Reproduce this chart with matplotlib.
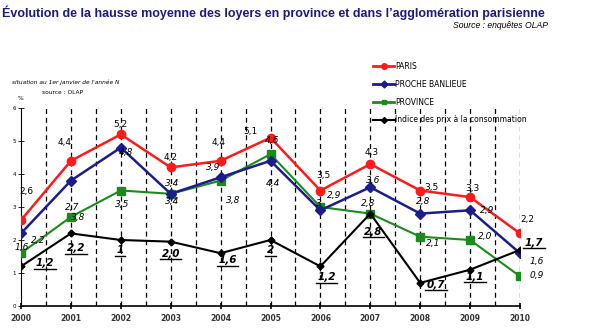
import matplotlib
matplotlib.use("Agg")
import matplotlib.pyplot as plt
from matplotlib.lines import Line2D

years = list(range(2000, 2011))

paris = [2.6, 4.4, 5.2, 4.2, 4.4, 5.1, 3.5, 4.3, 3.5, 3.3, 2.2]
banlieue = [2.2, 3.8, 4.8, 3.4, 3.9, 4.4, 2.9, 3.6, 2.8, 2.9, 1.6]
province = [1.6, 2.7, 3.5, 3.4, 3.8, 4.6, 3.0, 2.8, 2.1, 2.0, 0.9]
prix = [1.2, 2.2, 2.0, 1.95, 1.6, 2.0, 1.2, 2.8, 0.7, 1.1, 1.7]

paris_lbl = ["2,6", "4,4", "5,2", "4,2", "4,4", "5,1", "3,5", "4,3", "3,5", "3,3", "2,2"]
banlieue_lbl = ["2,2", "3,8", "4,8", "3,4", "3,9", "4,4", "2,9", "3,6", "2,8", "2,9", "1,6"]
province_lbl = ["1,6", "2,7", "3,5", "3,4", "3,8", "4,6", "3", "2,8", "2,1", "2,0", "0,9"]
prix_lbl = ["1,2", "2,2", "1", "2,0", "1,6", "2", "1,2", "2,8", "0,7", "1,1", "1,7"]

legend_labels = ["PARIS", "PROCHE BANLIEUE", "PROVINCE", "Indice des prix à la consommation"]

# label offsets in pixels (dx, dy), y up
paris_off = [(5, 29), (-6, 18), (0, 10), (0, 10), (-2, 18), (-20, 6), (3, 15), (1, 12), (11, 3), (2, 9), (7, 14)]
banlieue_off = [(17, -7), (7, -37), (5, -5), (1, 10), (-7, 10), (3, -23), (14, 15), (3, 7), (3, 12), (17, 0), (17, -8)]
province_off = [(1, 6), (1, 9), (1, -14), (1, -8), (13, -20), (2, 14), (-2, 3), (-2, 10), (13, -7), (15, 3), (17, 1)]
prix_off = [(24, 3), (5, -15), (-1, -10), (0, -12), (7, -7), (0, -10), (6, -11), (3, -18), (16, -2), (5, -7), (14, 7)]

RED = "#ff1a1a"
BLUE = "#1c1c8c"
GREEN = "#1a8c1a"
NAVY = "#1a1a80"

fig = plt.figure(figsize=(5.97, 3.28), dpi=100)
ax = fig.add_axes([21 / 597, 1 - 306 / 328, (520 - 21) / 597, (306 - 108) / 328])

for x in [y + 0.5 for y in years[:-1]] + years[1:]:
    ax.axvline(x, color="black", linestyle=(0, (4, 3)), linewidth=0.9, zorder=1)

ax.plot(years, paris, color=RED, lw=1.8, marker="o", ms=6, zorder=5)
ax.plot(years, banlieue, color=BLUE, lw=1.8, marker="D", ms=5, zorder=4)
ax.plot(years, province, color=GREEN, lw=1.5, marker="s", ms=5.5, zorder=3)
ax.plot(years, prix, color="black", lw=1.5, marker="D", ms=3.5, zorder=6)

ax.set_xlim(2000, 2010)
ax.set_ylim(0, 6)
ax.spines["top"].set_visible(False)
ax.spines["right"].set_visible(False)
ax.spines["left"].set_linewidth(0.8)
ax.spines["bottom"].set_linewidth(1.2)
ax.set_xticks(years)
ax.set_xticklabels([str(y) for y in years], fontsize=5.5, fontweight="bold", color="#333333")
ax.set_yticks(range(0, 7))
ax.set_yticklabels([str(v) for v in range(0, 7)], fontsize=4)
ax.tick_params(axis="x", direction="inout", length=5, width=1.2, pad=3)
ax.tick_params(axis="y", direction="inout", length=5, width=0.6, pad=1)

for x, v, s, o in zip(years, paris, paris_lbl, paris_off):
    ax.annotate(s, (x, v), xytext=o, textcoords="offset pixels", ha="center", va="center",
                fontsize=6.5, color="black", zorder=7)
for x, v, s, o in zip(years, banlieue, banlieue_lbl, banlieue_off):
    ax.annotate(s, (x, v), xytext=o, textcoords="offset pixels", ha="center", va="center",
                fontsize=6.5, style="italic", color="black", zorder=7)
for x, v, s, o in zip(years, province, province_lbl, province_off):
    ax.annotate(s, (x, v), xytext=o, textcoords="offset pixels", ha="center", va="center",
                fontsize=6.5, style="italic", color="black", zorder=7)
prix_texts = []
for x, v, s, o in zip(years, prix, prix_lbl, prix_off):
    t = ax.annotate(s, (x, v), xytext=o, textcoords="offset pixels", ha="center", va="center",
                    fontsize=7.5, style="italic", fontweight="bold", color="black", zorder=7)
    prix_texts.append(t)

handles = [
    Line2D([], [], color=RED, lw=2, marker="o", ms=4),
    Line2D([], [], color=BLUE, lw=2, marker="D", ms=3.5),
    Line2D([], [], color=GREEN, lw=2, marker="s", ms=3.5),
    Line2D([], [], color="black", lw=1.5, marker="D", ms=3),
]
fig.legend(handles, legend_labels, loc="upper left", bbox_to_anchor=(373 / 597, 1 - 62 / 328),
           frameon=False, fontsize=5.5, labelspacing=1.15, handlelength=2.8, handletextpad=0.1,
           borderaxespad=0, borderpad=0)

fig.text(2 / 597, 1 - 13 / 328,
         "Évolution de la hausse moyenne des loyers en province et dans l\u2019agglomération parisienne",
         fontsize=9.0, fontweight="bold", color=NAVY, va="center", ha="left",
         family="Liberation Sans")
fig.text(548 / 597, 1 - 26 / 328, "Source : enquêtes OLAP", fontsize=6.2, style="italic",
         ha="right", va="center", family="Liberation Sans")
fig.text(12 / 597, 1 - 82 / 328, "situation au 1er janvier de l'année N", fontsize=4.2,
         style="italic", va="center")
fig.text(42 / 597, 1 - 92 / 328, "source : OLAP", fontsize=4.2, va="center")
fig.text(18 / 597, 1 - 99 / 328, "%", fontsize=4.2, va="center")

# underline the price-index labels
fig.canvas.draw()
renderer = fig.canvas.get_renderer()
for t in prix_texts:
    bb = t.get_window_extent(renderer)
    yl = bb.y0 - 0.5
    fig.add_artist(Line2D([(bb.x0 - 1.5) / 597, (bb.x1 + 1.5) / 597], [yl / 328, yl / 328],
                          transform=fig.transFigure, color="black", lw=1.0))

fig.savefig("out.png", dpi=100)
